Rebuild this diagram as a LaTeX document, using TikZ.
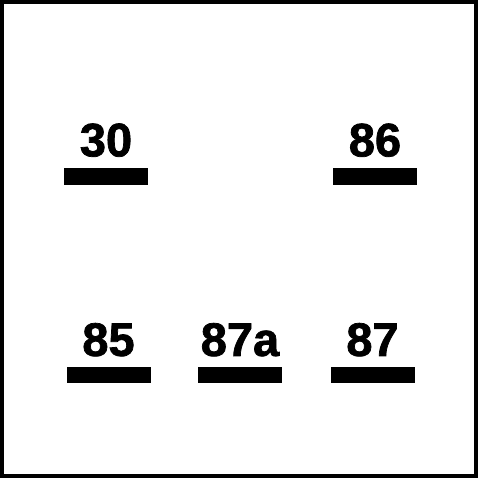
\documentclass[tikz,border=0pt]{standalone}
\usepackage{fontspec}
\setmainfont{Liberation Sans}[BoldFeatures={FakeBold=1.6}]
\usetikzlibrary{positioning}

\begin{document}
\begin{tikzpicture}[x=1pt, y=1pt]
\tikzstyle{pinbar} = [rectangle, fill=black, minimum width=84pt, minimum height=16.5pt, inner sep=0pt]
\tikzstyle{pinlabel} = [inner sep=0pt, font=\fontsize{47}{47}\selectfont\bfseries]

\useasboundingbox (0,0) rectangle (480,480);
\draw [line width=3.5pt] (2,4) rectangle (476,478);

% contact bars
\node (bar30) [pinbar] at (106,303.5) {};
\node (bar86) [pinbar] at (375,303.5) {};
\node (bar85) [pinbar] at (108.5,105) {};
\node (bar87a) [pinbar] at (240,105) {};
\node (bar87) [pinbar] at (372.5,105) {};

% terminal numbers
\node (pin30) [pinlabel, above=11pt of bar30] {30};
\node (pin86) [pinlabel, above=11pt of bar86] {86};
\node (pin85) [pinlabel, above=10pt of bar85] {85};
\node (pin87a) [pinlabel, above=10pt of bar87a] {87a};
\node (pin87) [pinlabel, above=10pt of bar87] {87};

\end{tikzpicture}
\end{document}
